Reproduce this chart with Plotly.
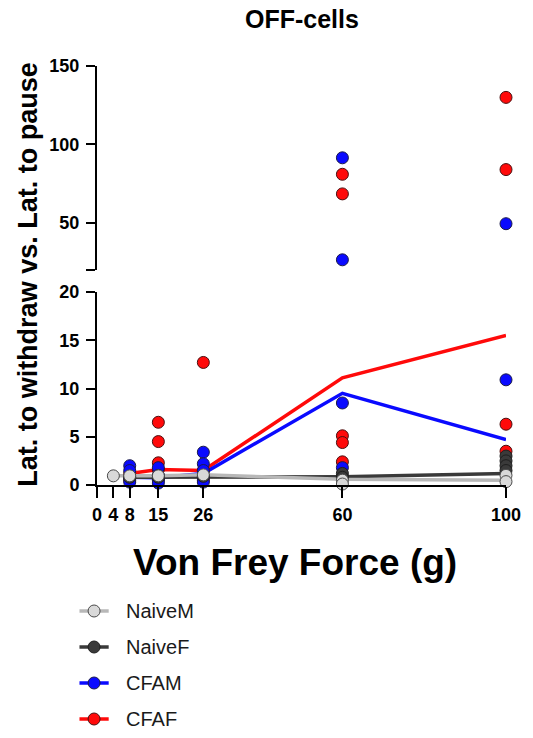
import plotly.graph_objects as go

# ---- data -------------------------------------------------------------
force_ticks = [0, 4, 8, 15, 26, 60, 100]
force_labels = ["0", "4", "8", "15", "26", "60", "100"]

# group means (connecting lines)
naivem_x = [4, 8, 15, 26, 60, 100]
naivem_mean = [0.95, 0.95, 0.95, 1.05, 0.6, 0.5]
naivef_x = [8, 15, 26, 60, 100]
naivef_mean = [0.8, 0.8, 0.85, 0.85, 1.2]
cfam_x = [8, 15, 26, 60, 100]
cfam_mean = [0.8, 0.75, 1.2, 9.5, 4.7]
cfaf_x = [8, 15, 26, 60, 100]
cfaf_mean = [1.2, 1.6, 1.5, 11.1, 15.5]

# individual cells
naivem_pts_x = [4, 8, 15, 26, 60, 60, 100, 100]
naivem_pts_y = [0.95, 0.95, 0.95, 1.05, 0.5, 0.1, 1.0, 0.35]
naivef_pts_x = [8, 15, 26, 60, 60, 100, 100, 100, 100]
naivef_pts_y = [0.8, 0.8, 0.9, 1.2, 0.8, 3.0, 2.5, 2.0, 1.5]
cfam_pts_x = [8, 8, 8, 8, 15, 15, 15, 15, 26, 26, 26, 26, 26, 60, 60, 60, 60, 100, 100]
cfam_pts_y = [2.0, 1.5, 0.7, 0.3, 1.8, 1.0, 0.5, 0.2, 3.4, 2.2, 1.5, 0.8, 0.3,
              91.5, 26.5, 8.5, 1.8, 49.5, 10.9]
cfaf_pts_x = [8, 8, 15, 15, 15, 15, 15, 26, 26, 26, 60, 60, 60, 60, 60, 100, 100, 100, 100]
cfaf_pts_y = [0.5, 1.2, 6.5, 4.5, 2.3, 1.6, 0.6, 12.7, 1.5, 0.5,
              81.0, 68.5, 5.1, 4.4, 2.4, 130.0, 84.0, 6.3, 3.5]

group_names = ["NaiveM", "NaiveF", "CFAM", "CFAF"]
line_colors = ["#b8b8b8", "#3a3a3a", "#0a0aff", "#ff0a0a"]
fill_colors = ["#d9d9d9", "#3a3a3a", "#0a0aff", "#ff0a0a"]
edge_colors = ["#4a4a4a", "#1e1e1e", "#1a1a4a", "#4a1010"]

axis_break = 20  # values above this go on the upper axis segment

# ---- page geometry (pixels) ---------------------------------------------
W, H = 533, 738
M_L, M_R, M_T, M_B = 97, 16, 66, 253
PLOT_W = W - M_L - M_R
PLOT_H = H - M_T - M_B


def px_to_paper(px, py):
    return (px - M_L) / PLOT_W, (H - M_B - py) / PLOT_H


FONT = "Arial, Liberation Sans, sans-serif"
fig = go.Figure()

means = [(naivem_x, naivem_mean), (naivef_x, naivef_mean),
         (cfam_x, cfam_mean), (cfaf_x, cfaf_mean)]
points = [(naivem_pts_x, naivem_pts_y), (naivef_pts_x, naivef_pts_y),
          (cfam_pts_x, cfam_pts_y), (cfaf_pts_x, cfaf_pts_y)]

draw_order = [3, 2, 1, 0]  # CFAF at the back, NaiveM on top

# mean lines
for i in draw_order:
    mx, my = means[i]
    fig.add_trace(go.Scatter(
        x=mx, y=my, mode="lines", xaxis="x", yaxis="y",
        line=dict(color=line_colors[i], width=3.5),
        showlegend=False, cliponaxis=False, hoverinfo="skip"))

# individual points, split across the broken axis
for i in draw_order:
    px, py = points[i]
    lo = [(a, b) for a, b in zip(px, py) if b <= axis_break]
    hi = [(a, b) for a, b in zip(px, py) if b > axis_break]
    marker = dict(size=12, color=fill_colors[i],
                  line=dict(color=edge_colors[i], width=1))
    if lo:
        fig.add_trace(go.Scatter(
            x=[a for a, _ in lo], y=[b for _, b in lo], mode="markers",
            xaxis="x", yaxis="y", marker=marker,
            showlegend=False, cliponaxis=False))
    if hi:
        fig.add_trace(go.Scatter(
            x=[a for a, _ in hi], y=[b for _, b in hi], mode="markers",
            xaxis="x", yaxis="y2", marker=marker,
            showlegend=False, cliponaxis=False))

# key below the chart: short line + dot + label per group
shapes = []
annotations = []
for i, name in enumerate(group_names):
    cy = 611 + 36 * i
    x0, y0 = px_to_paper(79, cy)
    x1, _ = px_to_paper(109, cy)
    xc, _ = px_to_paper(94, cy)
    xt, _ = px_to_paper(125, cy)
    shapes.append(dict(type="line", xref="paper", yref="paper",
                       x0=x0, x1=x1, y0=y0, y1=y0,
                       line=dict(color=line_colors[i], width=3.5)))
    shapes.append(dict(type="circle", xref="paper", yref="paper",
                       xsizemode="pixel", ysizemode="pixel",
                       xanchor=xc, yanchor=y0, x0=-6, x1=6, y0=-6, y1=6,
                       fillcolor=fill_colors[i],
                       line=dict(color=edge_colors[i], width=1)))
    annotations.append(dict(text=name, x=xt, y=y0, xref="paper", yref="paper",
                            xanchor="left", yanchor="middle", showarrow=False,
                            font=dict(family=FONT, size=20, color="#1a1a1a")))

axis_common = dict(
    showline=True, linecolor="black", linewidth=2,
    ticks="outside", ticklen=9, tickwidth=2, tickcolor="black",
    showgrid=False, zeroline=False, ticklabelstandoff=3,
    tickfont=dict(family=FONT, size=18, color="black", weight="bold"),
)

tx, ty = px_to_paper(307, 19)
yx, yy = px_to_paper(26, 274)
xx, xy = px_to_paper(300, 562)
annotations += [
    dict(text="<b>OFF-cells</b>", x=tx, y=ty, xref="paper", yref="paper",
         xanchor="center", yanchor="middle", showarrow=False,
         font=dict(family=FONT, size=25, color="black")),
    dict(text="<b>Lat. to withdraw vs. Lat. to pause</b>", x=yx, y=yy,
         xref="paper", yref="paper", textangle=-90,
         xanchor="center", yanchor="middle", showarrow=False,
         font=dict(family=FONT, size=27, color="black")),
    dict(text="<b>Von Frey Force (g)</b>", x=xx, y=xy,
         xref="paper", yref="paper", xanchor="center", yanchor="middle",
         showarrow=False, font=dict(family=FONT, size=37, color="black")),
]

_, lower_top = px_to_paper(0, 292)
_, upper_bottom = px_to_paper(0, 270)

fig.update_layout(
    width=W, height=H,
    margin=dict(l=M_L, r=M_R, t=M_T, b=M_B),
    paper_bgcolor="white", plot_bgcolor="white",
    font=dict(family=FONT, color="black"),
    showlegend=False,
    xaxis=dict(
        range=[0, 100], tickmode="array", tickvals=force_ticks,
        ticktext=force_labels, anchor="y",
        **{**axis_common, "ticklen": 11, "ticklabelstandoff": 1,
           "tickfont": dict(family=FONT, size=18, color="black", weight="bold")},
    ),
    yaxis=dict(
        domain=[0, lower_top], range=[0, 20], anchor="x",
        tickvals=[0, 5, 10, 15, 20], **axis_common,
    ),
    yaxis2=dict(
        domain=[upper_bottom, 1], range=[20, 150], anchor="x",
        tickvals=[20, 50, 100, 150], ticktext=["", "50", "100", "150"],
        **axis_common,
    ),
    shapes=shapes,
    annotations=annotations,
)

fig.write_html("out.html")
